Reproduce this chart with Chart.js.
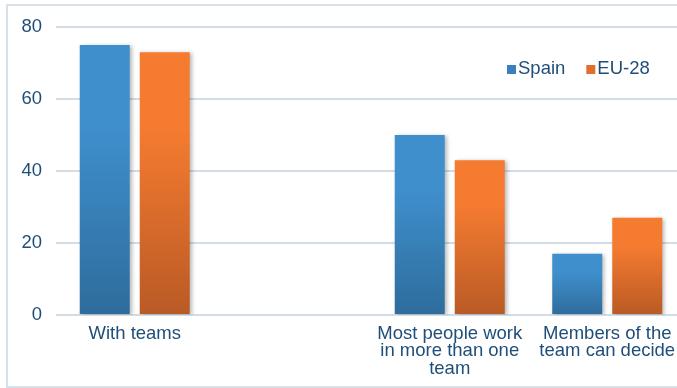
<!DOCTYPE html>
<html>
<head>
<meta charset="utf-8">
<script src="https://cdn.jsdelivr.net/npm/chart.js@4.4.1/dist/chart.umd.min.js"></script>
<style>
  html, body { margin: 0; padding: 0; background: #fff; overflow: hidden; }
  .wrap { width: 677px; height: 388px; overflow: hidden; position: relative; }
  .wrap canvas { position: absolute; top: 0; left: 0; }
</style>
</head>
<body>
<div class="wrap">
  <canvas id="chart" width="700" height="388"></canvas>
</div>
<script>
// categories (the empty one keeps the gap after "With teams")
const categories = [
  'With teams',
  '',
  ['Most people work', 'in more than one', 'team'],
  ['Members of the', 'team can decide']
];
const spainValues = [75, null, 50, 17];
const euValues = [73, null, 43, 27];
const yTicks = [0, 20, 40, 60, 80];

const textColor = '#1f4e79';
const fontFamily = "'Liberation Sans', Arial, sans-serif";
const fontSize = 18.5;

// per-bar vertical gradient, light on top, dark at the base
function barGradient(topColor, bottomColor) {
  return (context) => {
    const chart = context.chart;
    const yScale = chart.scales.y;
    if (!yScale || context.raw == null || !chart.chartArea) return topColor;
    const yTop = yScale.getPixelForValue(context.raw);
    const yBase = yScale.getPixelForValue(0);
    const g = chart.ctx.createLinearGradient(0, yTop, 0, yBase);
    g.addColorStop(0, topColor);
    g.addColorStop(0.3, topColor);
    g.addColorStop(1, bottomColor);
    return g;
  };
}

const legendColors = ['#3a80bf', '#e06e2c'];

// light frame round the whole chart
const framePlugin = {
  id: 'frame',
  beforeDraw(chart) {
    const ctx = chart.ctx;
    ctx.save();
    ctx.strokeStyle = '#d9e1e8';
    ctx.lineWidth = 2;
    ctx.strokeRect(7, 5, 800, 382);
    ctx.restore();
  }
};

// soft shadow behind bars
const shadowPlugin = {
  id: 'barShadow',
  beforeDatasetsDraw(chart) {
    const ctx = chart.ctx;
    ctx.save();
    ctx.shadowColor = 'rgba(0,0,0,0.28)';
    ctx.shadowBlur = 4;
    ctx.shadowOffsetX = 2;
    ctx.shadowOffsetY = 1;
  },
  afterDatasetsDraw(chart) {
    chart.ctx.restore();
  }
};

// legend sits inside the plot, top right
const legendPlugin = {
  id: 'innerLegend',
  afterDraw(chart) {
    const ctx = chart.ctx;
    ctx.save();
    ctx.font = fontSize + 'px ' + fontFamily;
    ctx.textBaseline = 'alphabetic';
    let x = chart.chartArea.right - 179;
    const baseline = 74;
    chart.data.datasets.forEach((ds, i) => {
      ctx.fillStyle = legendColors[i];
      ctx.fillRect(x, 65, 9, 9);
      ctx.fillStyle = textColor;
      ctx.fillText(ds.label, x + 11, baseline);
      x += 11 + ctx.measureText(ds.label).width + 21;
    });
    ctx.restore();
  }
};

const ctx = document.getElementById('chart').getContext('2d');
new Chart(ctx, {
  type: 'bar',
  data: {
    labels: categories,
    datasets: [
      {
        label: 'Spain',
        data: spainValues,
        backgroundColor: barGradient('#3f8fcd', '#2e6c9c'),
        categoryPercentage: 0.762,
        barPercentage: 0.833
      },
      {
        label: 'EU-28',
        data: euValues,
        backgroundColor: barGradient('#f47b30', '#b95a25'),
        categoryPercentage: 0.762,
        barPercentage: 0.833
      }
    ]
  },
  options: {
    responsive: false,
    animation: false,
    layout: {
      padding: { left: 0, top: 27, right: 14, bottom: 0 }
    },
    scales: {
      x: {
        grid: { display: false },
        border: { display: false },
        ticks: {
          color: textColor,
          padding: 2,
          maxRotation: 0,
          autoSkip: false,
          font: { family: fontFamily, size: fontSize, lineHeight: 0.95 }
        },
        afterFit(scale) { scale.height = 73; }
      },
      y: {
        min: 0,
        max: 80,
        border: { display: false },
        grid: { color: '#d3dce5', lineWidth: 2, drawTicks: false },
        afterBuildTicks(scale) { scale.ticks = yTicks.map(v => ({ value: v })); },
        ticks: {
          color: textColor,
          padding: 14,
          font: { family: fontFamily, size: fontSize }
        },
        afterFit(scale) { scale.width = 56; }
      }
    },
    plugins: {
      legend: { display: false },
      tooltip: { enabled: false }
    }
  },
  plugins: [framePlugin, shadowPlugin, legendPlugin]
});
</script>
</body>
</html>
